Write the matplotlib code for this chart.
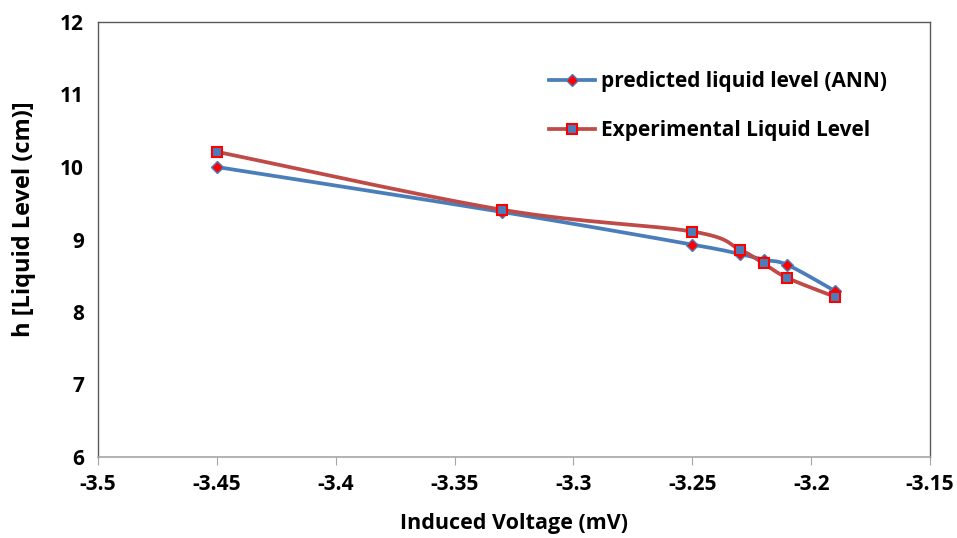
import numpy as np
import matplotlib
matplotlib.use("Agg")
import matplotlib.pyplot as plt

voltage = [-3.45, -3.33, -3.25, -3.23, -3.22, -3.21, -3.19]
level_ann = [10.00, 9.38, 8.93, 8.80, 8.72, 8.65, 8.29]
level_exp = [10.21, 9.41, 9.11, 8.86, 8.67, 8.47, 8.21]

x_lim = (-3.5, -3.15)
y_lim = (6, 12)
x_ticks = [-3.5, -3.45, -3.4, -3.35, -3.3, -3.25, -3.2, -3.15]
x_labels = ["-3.5", "-3.45", "-3.4", "-3.35", "-3.3", "-3.25", "-3.2", "-3.15"]
y_ticks = [6, 7, 8, 9, 10, 11, 12]


def smooth(xs, ys, n=30):
    # Excel-like smoothed line: cubic Bezier with Catmull-Rom control points,
    # computed in normalised axis space so the shape isn't skewed by scales
    sx = (x_lim[1] - x_lim[0]) / 832.0
    sy = (y_lim[1] - y_lim[0]) / 435.0
    p = np.column_stack([np.asarray(xs) / sx, np.asarray(ys) / sy])
    out = [p[0]]
    for i in range(len(p) - 1):
        p0 = p[i - 1] if i > 0 else p[i]
        p3 = p[i + 2] if i + 2 < len(p) else p[i + 1]
        p1, p2 = p[i], p[i + 1]
        c1 = p1 + (p2 - p0) / 6.0
        c2 = p2 - (p3 - p1) / 6.0
        t = np.linspace(0, 1, n)[1:, None]
        seg = ((1 - t) ** 3) * p1 + 3 * ((1 - t) ** 2) * t * c1 + 3 * (1 - t) * t ** 2 * c2 + t ** 3 * p2
        out.extend(seg)
    out = np.array(out)
    return out[:, 0] * sx, out[:, 1] * sy


plt.rcParams["font.family"] = ["Open Sans", "DejaVu Sans"]
plt.rcParams["font.weight"] = "bold"

fig = plt.figure(figsize=(9.57, 5.38), dpi=100)
ax = fig.add_axes([98 / 957, 1 - 457 / 538, 832 / 957, 435 / 538])

blue = "#4A7EBB"
red_line = "#BE4B48"

sx_a, sy_a = smooth(voltage, level_ann)
sx_e, sy_e = smooth(voltage, level_exp)

ax.plot(sx_a, sy_a, color=blue, lw=2.7, zorder=2)
ax.plot(voltage, level_ann, ls="none", marker="D", ms=6.5, mfc="#FF0000",
        mec=blue, mew=1, zorder=4)
ax.plot(sx_e, sy_e, color=red_line, lw=2.7, zorder=3)
ax.plot(voltage, level_exp, ls="none", marker="s", ms=7.5, mfc=blue,
        mec="#FF0000", mew=1.5, zorder=5)

# legend handles
ax.plot([], [], color=blue, lw=2.7, marker="D", ms=6.5, mfc="#FF0000", mec=blue,
        label="predicted liquid level (ANN)")
ax.plot([], [], color=red_line, lw=2.7, marker="s", ms=7.5, mfc=blue, mec="#FF0000",
        mew=1.5, label="Experimental Liquid Level")
handles, labels = ax.get_legend_handles_labels()
leg = ax.legend(handles, labels, loc="upper left", bbox_to_anchor=(0.52, 0.93),
                frameon=False, fontsize=15, labelspacing=1.35, handlelength=2.2,
                handletextpad=0.3)
for t in leg.get_texts():
    t.set_fontweight("bold")

ax.set_xlim(*x_lim)
ax.set_ylim(*y_lim)
ax.set_xticks(x_ticks)
ax.set_xticklabels(x_labels)
ax.set_yticks(y_ticks)
ax.tick_params(axis="both", labelsize=15, direction="out", length=6, color="#A6A6A6")
ax.tick_params(axis="y", length=0, pad=10)
ax.tick_params(axis="x", pad=6)
for lab in ax.get_xticklabels() + ax.get_yticklabels():
    lab.set_fontweight("bold")

for side in ["top", "right", "left"]:
    ax.spines[side].set_color("#595959")
    ax.spines[side].set_linewidth(1.0)
ax.spines["bottom"].set_color("#A6A6A6")
ax.spines["bottom"].set_linewidth(1.2)

ax.set_xlabel("Induced Voltage (mV)", fontsize=15.5, fontweight="bold", labelpad=13)
ax.set_ylabel("h [Liquid Level (cm)]", fontsize=17, fontweight="bold")
ax.yaxis.set_label_coords(-0.075, 0.547)

fig.savefig("out.png", dpi=100)
